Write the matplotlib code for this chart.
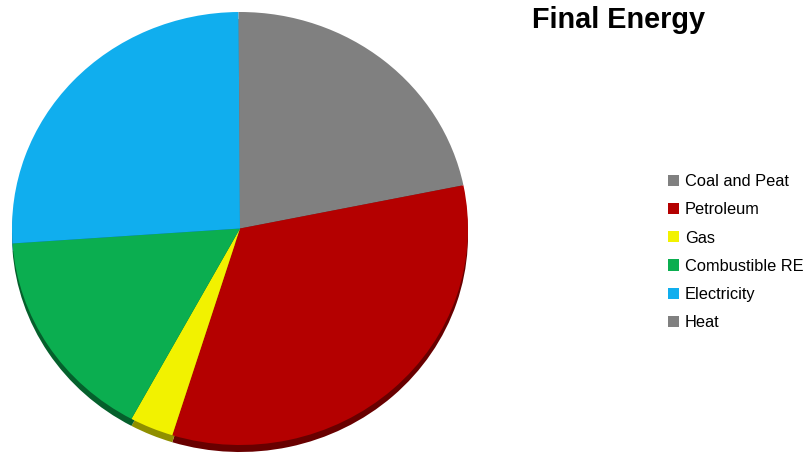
import matplotlib
matplotlib.use("Agg")
import matplotlib.pyplot as plt
from matplotlib.patches import Patch

labels = ["Coal and Peat", "Petroleum", "Gas", "Combustible RE", "Electricity", "Heat"]
values = [21.8, 33.0, 3.1, 16.0, 26.0, 0.1]
colors = ["#808080", "#B40000", "#F2F200", "#0BAE50", "#10AEEE", "#808080"]
side_colors = ["#4A4A4A", "#680000", "#8F8F00", "#05602C", "#06668C", "#4A4A4A"]

plt.rcParams['font.family'] = ['Liberation Sans', 'DejaVu Sans']

W, H = 810, 453
fig = plt.figure(figsize=(W / 100, H / 100), dpi=100)

# pie top face: x 12..468, y 12..445 (pixels from top)
left, right, top, bottom = 12, 468, 12, 445
ax = fig.add_axes([left / W, (H - bottom) / H, (right - left) / W, (bottom - top) / H])

depth = 7 / ((bottom - top) / 2)  # side thickness in data units
side, _ = ax.pie(values, colors=side_colors, startangle=90, counterclock=False,
                 center=(0, -depth), radius=1.0,
                 wedgeprops=dict(linewidth=0))
for w in side:
    w.set_clip_on(False)
    w.set_zorder(1)
wedges, _ = ax.pie(values, colors=colors, startangle=90, counterclock=False,
                   center=(0, 0), radius=1.0,
                   wedgeprops=dict(linewidth=0))
for w in wedges:
    w.set_clip_on(False)
    w.set_zorder(2)
ax.set_aspect('auto')
ax.set_xlim(-1, 1)
ax.set_ylim(-1, 1)
ax.axis('off')

fig.text(618.5 / W, 1 - 20 / H, "Final Energy", fontsize=20.8, fontweight='bold',
         ha='center', va='center', color='#000000')

handles = [Patch(facecolor=c, edgecolor='none') for c in colors]
leg = fig.legend(handles, labels, loc='upper left',
                 bbox_to_anchor=(668 / W, 1 - 174 / H),
                 frameon=False, fontsize=11.8, handlelength=0.68, handleheight=0.68,
                 handletextpad=0.35, labelspacing=0.81, borderpad=0, borderaxespad=0)

fig.savefig("out.png", dpi=100)
